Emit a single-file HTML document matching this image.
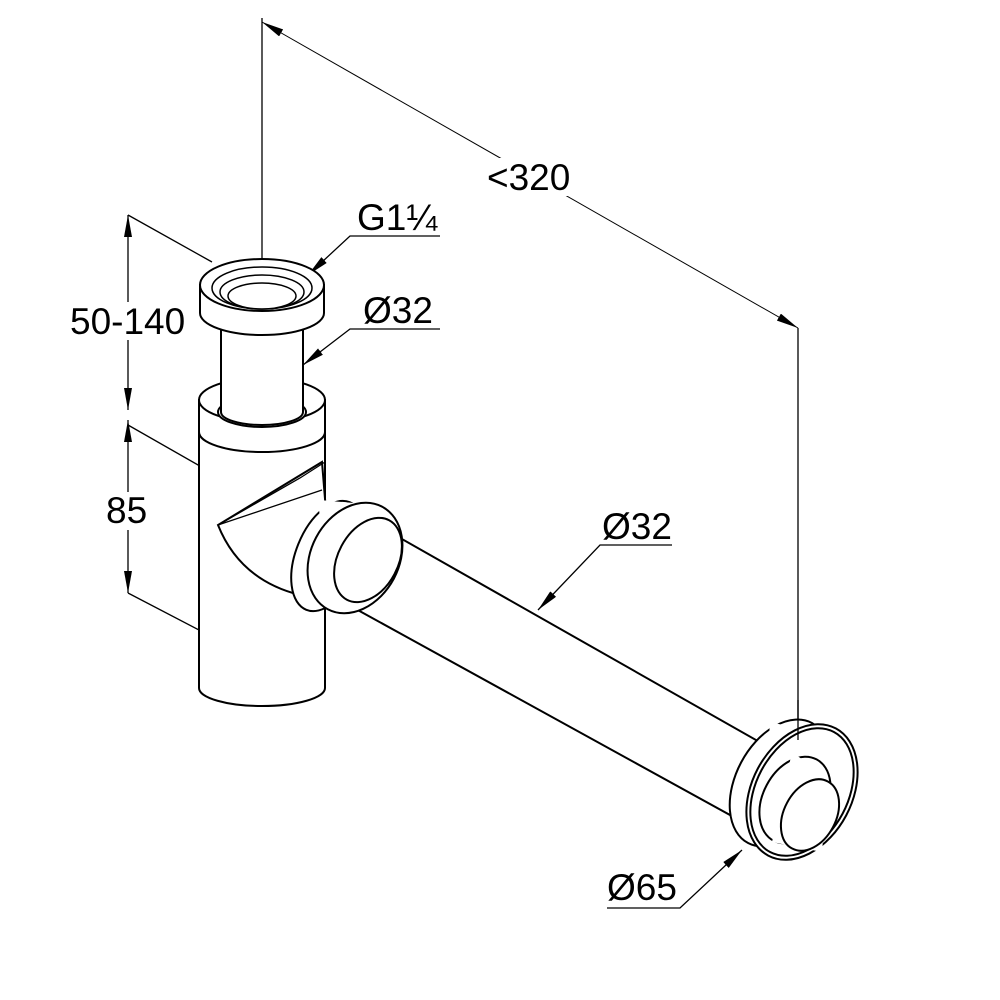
<!DOCTYPE html>
<html><head><style>body{margin:0;background:#fff}svg{display:block}text{font-family:"Liberation Sans",sans-serif;font-size:37px;fill:#000}</style></head><body>
<svg width="1000" height="1000" viewBox="0 0 1000 1000" xmlns="http://www.w3.org/2000/svg">
<defs><marker id="a" viewBox="0 0 22 8" refX="22" refY="4" markerWidth="22" markerHeight="8" orient="auto-start-reverse" markerUnits="userSpaceOnUse"><path d="M0,0 L22,4 L0,8 z" fill="#000"/></marker></defs>
<g fill="none" stroke="#000" stroke-width="1.3">
<line x1="262" y1="18" x2="262" y2="315"/>
<line x1="262" y1="22" x2="798" y2="328" marker-start="url(#a)" marker-end="url(#a)" stroke-width="1"/>
<line x1="798" y1="328" x2="798" y2="735"/>
<line x1="128" y1="215" x2="128" y2="410" marker-start="url(#a)" marker-end="url(#a)"/>
<line x1="128" y1="420" x2="128" y2="593" marker-start="url(#a)" marker-end="url(#a)"/>
<line x1="128" y1="215" x2="212" y2="262"/>
<line x1="128" y1="425" x2="312" y2="530"/>
<line x1="128" y1="593" x2="222" y2="642"/>
<polyline points="440,236 350,236 308,275" marker-end="url(#a)"/>
<polyline points="440,329 350,329 303,365" marker-end="url(#a)"/>
<polyline points="672,545 600,545 538,610" marker-end="url(#a)"/>
<polyline points="607,908 680,908 742,850" marker-end="url(#a)"/>
</g>
<g fill="#fff" stroke="#000" stroke-width="2">
<path d="M199,430 L199,688 A63,18 0 0 0 325,688 L325,430 Z"/>
<path d="M199,400 L199,432 A63,20 0 0 0 325,432 L325,400 Z"/>
<ellipse cx="262" cy="400" rx="63" ry="22"/>
<ellipse cx="262" cy="412" rx="44" ry="15"/>
<path d="M221,300 L221,412 A41,13 0 0 0 303,412 L303,300 Z"/>
<path d="M200,285 L200,313 A62,22 0 0 0 324,313 L324,285 Z"/>
<ellipse cx="262" cy="285" rx="62" ry="26"/>
<ellipse cx="262" cy="288" rx="50" ry="21" stroke-width="1.5"/>
<ellipse cx="262" cy="292" rx="42" ry="17" stroke-width="1.5"/>
<ellipse cx="262" cy="296" rx="34" ry="13" stroke-width="1.5"/>
<path d="M218,525 Q240,580 300,595 L330,560 L322,462 Z"/>
<path d="M218,525 L300,478 L325,462" fill="none" stroke-width="1.3"/>
<path d="M218,525 L322,490" fill="none" stroke-width="1.3"/>
<path d="M372,522 L770,748 L730,815 L345,603 Z"/>
<path d="M318,500 L378,505 L395,600 L330,610 L300,585 Z" stroke="none"/>
<ellipse cx="328" cy="556" rx="32" ry="58" transform="rotate(22 328 556)"/>
<path d="M318,500 L378,505 L395,600 L330,610 Z" stroke="none"/>
<ellipse cx="355" cy="558" rx="44" ry="58" transform="rotate(28 355 558)"/>
<ellipse cx="368" cy="560" rx="30" ry="45" transform="rotate(28 368 560)"/>
<ellipse cx="780" cy="783" rx="44" ry="68" transform="rotate(28 780 783)"/>
<path d="M770,722 L840,738 L822,852 L762,850 Z" stroke="none"/>
<ellipse cx="802" cy="792" rx="50" ry="72" transform="rotate(28 802 792)"/>
<ellipse cx="802" cy="792" rx="46" ry="68" transform="rotate(28 802 792)"/>
<ellipse cx="795" cy="800" rx="32" ry="46" transform="rotate(28 795 800)"/>
<path d="M792,752 L828,778 L822,852 L772,842 Z" stroke="none"/>
<ellipse cx="810" cy="815" rx="26" ry="38" transform="rotate(28 810 815)"/>
</g>
<line x1="798" y1="700" x2="798" y2="740" stroke="#000" stroke-width="1.3"/>
<rect x="484" y="158" width="92" height="38" fill="#fff"/>
<rect x="68" y="302" width="122" height="38" fill="#fff"/>
<rect x="104" y="492" width="48" height="38" fill="#fff"/>
<text x="487" y="190">&lt;320</text>
<text x="357" y="230">G1¼</text>
<text x="363" y="323">Ø32</text>
<text x="70" y="334">50-140</text>
<text x="106" y="523">85</text>
<text x="602" y="539">Ø32</text>
<text x="607" y="900">Ø65</text>
</svg>
</body></html>
